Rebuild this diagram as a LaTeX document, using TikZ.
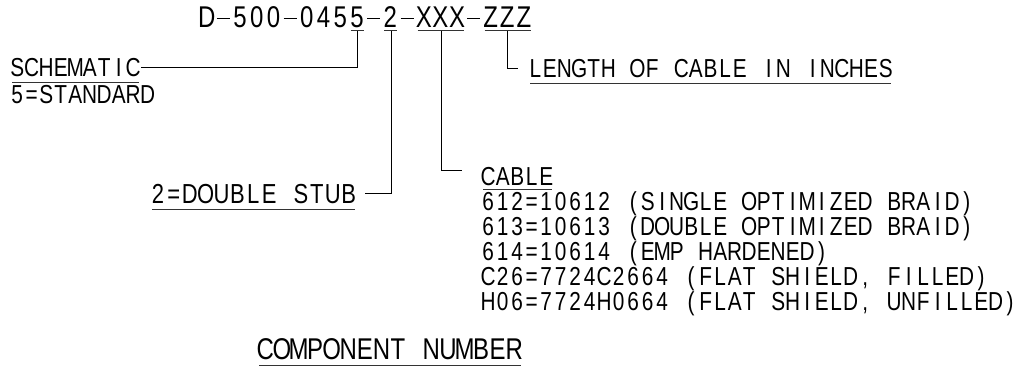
\documentclass[tikz,border=0pt]{standalone}
\usepackage{fontspec}
\usetikzlibrary{calc}
\newfontfamily\cadfont{Liberation Sans}[FakeStretch=0.8]
\newlength\monopitch
\newcommand\monotext[2]{\setlength\monopitch{#1}\monoloop#2\relax}
\def\monoloop#1{\ifx#1\relax\else\makebox[\monopitch][c]{#1}\expandafter\monoloop\fi}
\newcommand\cdash{\rule[8pt]{13pt}{1.1pt}}
\newcommand\underl[1]{\draw[ul] ([shift={(2pt,-6.5pt)}]#1.base west) -- ([shift={(-2pt,-6.5pt)}]#1.base east);}
\tikzset{
  lbl/.style={inner sep=0pt, outer sep=0pt, anchor=base west,
    font=\cadfont\fontsize{26pt}{30pt}\selectfont},
  mid/.style={lbl, font=\cadfont\fontsize{27.5pt}{32pt}\selectfont},
  big/.style={lbl, font=\cadfont\fontsize{30pt}{34pt}\selectfont},
  ln/.style={line width=1pt, black},
  ul/.style={line width=1pt, black!80},
}
\begin{document}
\begin{tikzpicture}[x=1pt,y=-1pt]
\fill[white] (0,0) rectangle (1023,368);
\useasboundingbox (0,0) rectangle (1023,368);

% top code
\node[big] (title) at (198.35,27) {\monotext{16.7pt}{D\cdash500\cdash0455\cdash2\cdash XXX\cdash ZZZ}};
% underlines of code parts and their tick points
\draw[ul] (350.5,30.5) -- (363.5,30.5);
\draw[ul] (384,30.5) -- (397,30.5);
\draw[ul] (417.5,30.5) -- (464,30.5);
\draw[ul] (484.5,30.5) -- (531,30.5);
\coordinate (u5) at (357,30.5);
\coordinate (u2) at (391,30.5);
\coordinate (uX) at (441.5,30.5);
\coordinate (uZ) at (507.5,30.5);

% labels
\node[lbl] (schem) at (10,76) {\monotext{14.5pt}{SCHEMATIC}};
\underl{schem}
\node[lbl] (std) at (10,103) {\monotext{14.5pt}{5=STANDARD}};

\node[lbl] (len) at (528,77) {\monotext{14.6pt}{LENGTH~OF~CABLE~IN~INCHES}};
\underl{len}

\node[mid] (dbl) at (150,203) {\monotext{15.9pt}{2=DOUBLE~STUB}};
\underl{dbl}

\node[lbl] (cab) at (481,185) {\monotext{14.5pt}{CABLE}};
\draw[ul] ([shift={(2pt,-4pt)}]cab.base west) -- ([shift={(-2pt,-4pt)}]cab.base east);
\node[lbl] (c1) at (481,210) {\monotext{14.5pt}{612=10612~(SINGLE~OPTIMIZED~BRAID)}};
\node[lbl] (c2) at (481,235) {\monotext{14.5pt}{613=10613~(DOUBLE~OPTIMIZED~BRAID)}};
\node[lbl] (c3) at (481,260) {\monotext{14.5pt}{614=10614~(EMP~HARDENED)}};
\node[lbl] (c4) at (481,285) {\monotext{14.5pt}{C26=7724C2664~(FLAT~SHIELD,~FILLED)}};
\node[lbl] (c5) at (481,310) {\monotext{14.5pt}{H06=7724H0664~(FLAT~SHIELD,~UNFILLED)}};

\node[big] (comp) at (257,359) {\monotext{16.6pt}{COMPONENT~NUMBER}};
\underl{comp}

% connector ends
\coordinate (eZ) at ([xshift=-10pt]len.west);
\coordinate (e2) at ([xshift=8pt]dbl.east);
\coordinate (eX) at ([shift={(-19pt,-4pt)}]cab.north west);

% connectors
\draw[ln] (u5) |- (schem.east);
\draw[ln] (uZ) |- (eZ);
\draw[ln] (u2) |- (e2);
\draw[ln] (uX) |- (eX);
\end{tikzpicture}
\end{document}
